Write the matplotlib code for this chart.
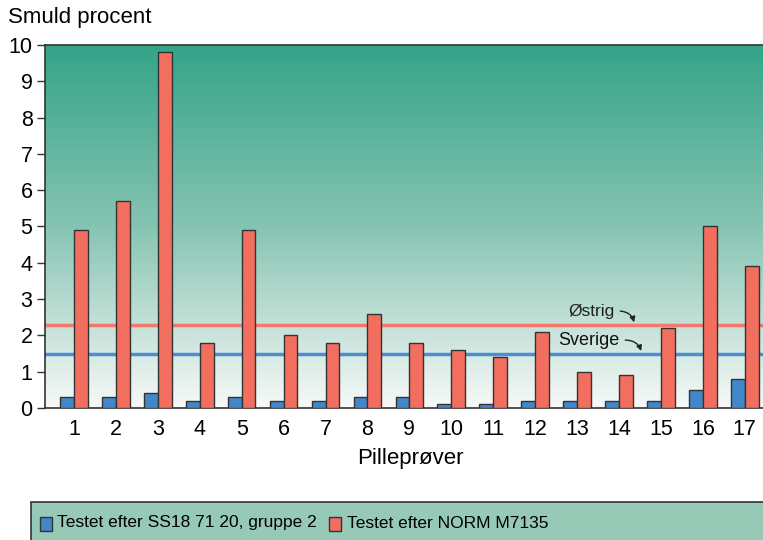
import numpy as np
import matplotlib
matplotlib.use("Agg")
import matplotlib.pyplot as plt
from matplotlib.colors import LinearSegmentedColormap
from matplotlib.patches import Rectangle

plt.rcParams['font.family'] = ['Liberation Sans', 'DejaVu Sans']

# data
samples = list(range(1, 18))
ss18 = [0.3, 0.3, 0.4, 0.2, 0.3, 0.2, 0.2, 0.3, 0.3, 0.1, 0.1, 0.2, 0.2, 0.2, 0.2, 0.5, 0.8]
norm = [4.9, 5.7, 9.8, 1.8, 4.9, 2.0, 1.8, 2.6, 1.8, 1.6, 1.4, 2.1, 1.0, 0.9, 2.2, 5.0, 3.9]
limit_at = 2.3   # Østrig
limit_se = 1.5   # Sverige

blue = '#4287c9'
red = '#f26f5f'
edge = '#333333'

fig = plt.figure(figsize=(7.63, 5.40), dpi=100)
W, H = 763, 540
ax = fig.add_axes([45 / W, 1 - 408 / H, 730 / W, 363 / H])

# gradient background
grad = LinearSegmentedColormap.from_list('bg', ['#f7f9f8', '#86c4b2', '#33a488'])
g = np.linspace(0, 1, 256).reshape(-1, 1)
ax.imshow(g, aspect='auto', cmap=grad, origin='lower',
          extent=[0.31, 17.72, 0, 10], zorder=0)

x = np.array(samples)
w = 0.33
ax.bar(x - w / 2, ss18, w, color=blue, edgecolor=edge, linewidth=1, zorder=3)
ax.bar(x + w / 2, norm, w, color=red, edgecolor=edge, linewidth=1, zorder=3)

ax.axhline(limit_at, color='#f37a6b', lw=2.5, zorder=2)
ax.axhline(limit_se, color='#4a8fd2', lw=2.5, zorder=2)

ax.text(13.35, 2.67, 'Østrig', fontsize=12.5, ha='center', va='center', color='#222222', zorder=4)
ax.text(13.27, 1.87, 'Sverige', fontsize=13, ha='center', va='center', color='#111111', zorder=4)
arrow = dict(arrowstyle='-|>', color='#222222', lw=1, mutation_scale=8,
             shrinkA=0, shrinkB=0, connectionstyle='arc3,rad=-0.35')
ax.annotate('', xy=(14.36, 2.36), xytext=(14.03, 2.67), arrowprops=arrow, zorder=4)
ax.annotate('', xy=(14.53, 1.57), xytext=(14.15, 1.87), arrowprops=arrow, zorder=4)

ax.set_xlim(0.31, 17.72)
ax.set_ylim(0, 10)
ax.set_yticks(range(0, 11))
ax.set_xticks(samples)
ax.tick_params(axis='y', length=6, width=1, color='#333333', labelsize=15.5, pad=3)
ax.tick_params(axis='x', length=0, labelsize=15.5, pad=8)
for s in ['left', 'bottom', 'top']:
    ax.spines[s].set_color('#333333')
    ax.spines[s].set_linewidth(1.2)
ax.spines['right'].set_visible(False)
ax.set_xlabel('Pilleprøver', fontsize=16, labelpad=6)

fig.text(8 / W, 1 - 17 / H, 'Smuld procent', fontsize=16, ha='left', va='center')

# legend box
fig.patches.append(Rectangle((31 / W, 1 - 560 / H), 760 / W, 58 / H, transform=fig.transFigure,
                             facecolor='#96cab7', edgecolor='#333333', lw=1.2))
fig.patches.append(Rectangle((40 / W, 1 - 531 / H), 12 / W, 14 / H, transform=fig.transFigure,
                             facecolor=blue, edgecolor=edge, lw=1))
fig.text(57 / W, 1 - 523 / H, 'Testet efter SS18 71 20, gruppe 2', fontsize=12.5,
         ha='left', va='center')
fig.patches.append(Rectangle((329 / W, 1 - 531 / H), 12 / W, 14 / H, transform=fig.transFigure,
                             facecolor=red, edgecolor=edge, lw=1))
fig.text(347 / W, 1 - 523 / H, 'Testet efter NORM M7135', fontsize=12.5,
         ha='left', va='center')

fig.savefig('out.png', dpi=100)
